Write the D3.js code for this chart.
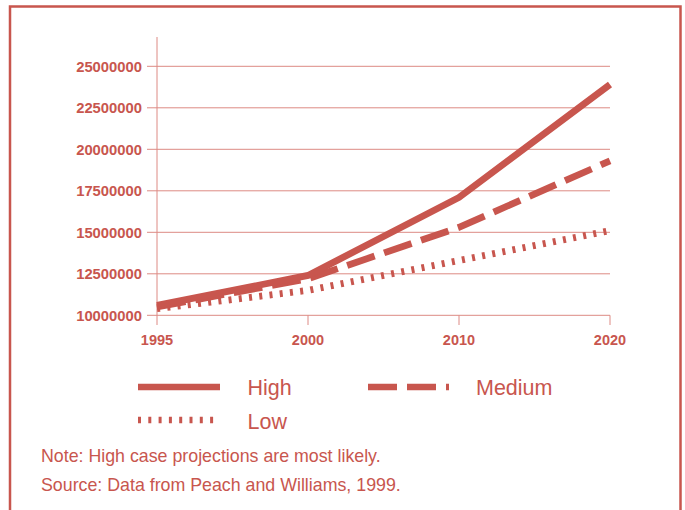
<!DOCTYPE html>
<html>
<head>
<meta charset="utf-8">
<script src="https://cdn.jsdelivr.net/npm/d3@7/dist/d3.min.js"></script>
<style>
html, body { margin: 0; padding: 0; background: #ffffff; }
svg { display: block; }
</style>
</head>
<body>
<svg id="chart" width="685" height="510"></svg>
<script>
// ---- data ----
const years = ["1995", "2000", "2010", "2020"];
const highValues = [10600000, 12400000, 17100000, 23900000];
const mediumValues = [10500000, 12200000, 15300000, 19300000];
const lowValues = [10400000, 11500000, 13300000, 15100000];
const yTickValues = [10000000, 12500000, 15000000, 17500000, 20000000, 22500000, 25000000];
const seriesNames = ["High", "Medium", "Low"];
const noteLines = [
  "Note: High case projections are most likely.",
  "Source: Data from Peach and Williams, 1999."
];

// ---- styles ----
const RED = "#c8564e";
const GRID = "#dd8a84";
const FONT = "'Liberation Sans', Arial, sans-serif";

const svg = d3.select("#chart");

// frame
svg.append("rect")
  .attr("x", 10).attr("y", 6.5)
  .attr("width", 670.5).attr("height", 600)
  .attr("fill", "none").attr("stroke", RED).attr("stroke-width", 2.5);

const x = d3.scalePoint().domain(years).range([157, 610]);
const y = d3.scaleLinear().domain([10000000, 25000000]).range([315.3, 66.3]);

// gridlines
svg.append("g").selectAll("line").data(yTickValues).join("line")
  .attr("x1", 147).attr("x2", 610)
  .attr("y1", d => y(d)).attr("y2", d => y(d))
  .attr("stroke", GRID).attr("stroke-width", 1);

// y axis line
svg.append("line")
  .attr("x1", 157).attr("x2", 157).attr("y1", 37).attr("y2", 325)
  .attr("stroke", GRID).attr("stroke-width", 1);

// y labels
svg.append("g").selectAll("text").data(yTickValues).join("text")
  .attr("x", 142).attr("y", d => y(d))
  .attr("dy", "0.36em")
  .attr("text-anchor", "end")
  .attr("font-family", FONT).attr("font-weight", "bold").attr("font-size", "14.8px")
  .attr("fill", RED)
  .text(d => String(d));

// x ticks
svg.append("g").selectAll("line").data(years.slice(1)).join("line")
  .attr("x1", d => x(d)).attr("x2", d => x(d))
  .attr("y1", 315.3).attr("y2", 325)
  .attr("stroke", GRID).attr("stroke-width", 1);

// x labels
svg.append("g").selectAll("text").data(years).join("text")
  .attr("x", d => x(d)).attr("y", 345)
  .attr("text-anchor", "middle")
  .attr("font-family", FONT).attr("font-weight", "bold").attr("font-size", "14.5px")
  .attr("fill", RED)
  .text(d => d);

// lines
const line = d3.line().x((d, i) => x(years[i])).y(d => y(d));
const styles = {
  High: { dash: null },
  Medium: { dash: "29,10" },
  Low: { dash: "3,7.3" }
};
const seriesData = { High: highValues, Medium: mediumValues, Low: lowValues };

["Low", "Medium", "High"].forEach(name => {
  svg.append("path")
    .datum(seriesData[name])
    .attr("d", line)
    .attr("fill", "none")
    .attr("stroke", RED)
    .attr("stroke-width", 6.8)
    .attr("stroke-linejoin", "miter")
    .attr("stroke-dasharray", styles[name].dash);
});

// legend
const legendItems = [
  { name: seriesNames[0], x1: 138, x2: 220, y: 387, tx: 247.5, ty: 395, dash: null },
  { name: seriesNames[1], x1: 368, x2: 449, y: 387, tx: 476, ty: 395, dash: "29,10" },
  { name: seriesNames[2], x1: 138, x2: 215, y: 420, tx: 247.5, ty: 428.5, dash: "3,7.3" }
];
const lg = svg.append("g");
legendItems.forEach(it => {
  lg.append("line")
    .attr("x1", it.x1).attr("x2", it.x2).attr("y1", it.y).attr("y2", it.y)
    .attr("stroke", RED).attr("stroke-width", 6.5)
    .attr("stroke-dasharray", it.dash);
  lg.append("text")
    .attr("x", it.tx).attr("y", it.ty)
    .attr("font-family", FONT).attr("font-size", "21.5px")
    .attr("fill", RED)
    .text(it.name);
});

// notes
svg.append("g").selectAll("text").data(noteLines).join("text")
  .attr("x", 41).attr("y", (d, i) => 461.7 + i * 29)
  .attr("font-family", FONT).attr("font-size", "17.8px")
  .attr("fill", RED)
  .text(d => d);
</script>
</body>
</html>
